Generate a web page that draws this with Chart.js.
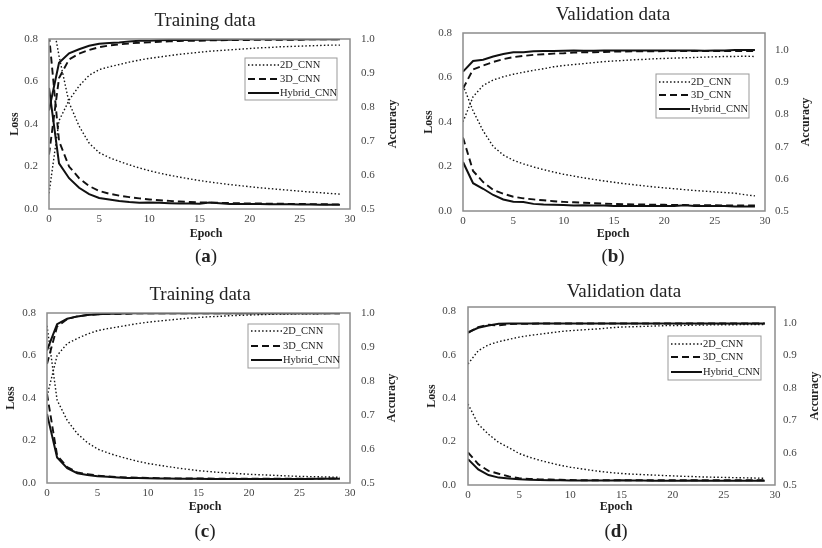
<!DOCTYPE html>
<html>
<head>
<meta charset="utf-8">
<script src="https://cdn.jsdelivr.net/npm/chart.js@4.4.1/dist/chart.umd.min.js"></script>
<style>
  body { margin: 0; background: #fff; }
  #wrap { position: relative; width: 822px; height: 548px; }
  .panel { position: absolute; width: 411px; height: 274px; }
</style>
</head>
<body>
<div id="wrap">
  <div class="panel" style="left:0;top:0"><canvas id="chartA"></canvas></div>
  <div class="panel" style="left:411px;top:0"><canvas id="chartB"></canvas></div>
  <div class="panel" style="left:0;top:274px"><canvas id="chartC"></canvas></div>
  <div class="panel" style="left:411px;top:274px"><canvas id="chartD"></canvas></div>
</div>
<script>
const epochs = [0, 1, 2, 3, 4, 5, 6, 7, 8, 9, 10, 11, 12, 13, 14, 15, 16, 17, 18, 19, 20, 21, 22, 23, 24, 25, 26, 27, 28, 29];
const epochTicks = [0, 5, 10, 15, 20, 25, 30];
const lossTicks = [0, 0.2, 0.4, 0.6, 0.8];
const accTicks = [0.5, 0.6, 0.7, 0.8, 0.9, 1.0];
const modelNames = ['2D_CNN', '3D_CNN', 'Hybrid_CNN'];

// (a) training
const a_loss2d = [0.98, 0.72, 0.50, 0.39, 0.31, 0.265, 0.242, 0.224, 0.208, 0.193, 0.18, 0.169, 0.159, 0.15, 0.142, 0.134, 0.127, 0.121, 0.115, 0.11, 0.105, 0.1, 0.096, 0.092, 0.088, 0.084, 0.08, 0.077, 0.073, 0.07];
const a_loss3d = [0.82, 0.32, 0.2, 0.145, 0.108, 0.085, 0.072, 0.063, 0.056, 0.05, 0.045, 0.041, 0.038, 0.035, 0.033, 0.031, 0.03, 0.029, 0.028, 0.027, 0.026, 0.026, 0.025, 0.025, 0.024, 0.024, 0.023, 0.023, 0.022, 0.022];
const a_lossHy = [0.57, 0.215, 0.145, 0.1, 0.07, 0.052, 0.045, 0.038, 0.033, 0.03, 0.031, 0.029, 0.027, 0.026, 0.026, 0.025, 0.03, 0.027, 0.024, 0.024, 0.023, 0.023, 0.022, 0.022, 0.022, 0.021, 0.021, 0.02, 0.02, 0.02];
const a_acc2d = [0.546, 0.76, 0.82, 0.862, 0.893, 0.91, 0.918, 0.925, 0.932, 0.938, 0.943, 0.947, 0.951, 0.955, 0.958, 0.961, 0.964, 0.966, 0.968, 0.97, 0.972, 0.974, 0.975, 0.977, 0.978, 0.979, 0.98, 0.981, 0.982, 0.982];
const a_acc3d = [0.66, 0.885, 0.94, 0.957, 0.968, 0.976, 0.981, 0.984, 0.987, 0.989, 0.99, 0.992, 0.993, 0.994, 0.995, 0.995, 0.996, 0.996, 0.997, 0.997, 0.997, 0.998, 0.998, 0.998, 0.998, 0.998, 0.999, 0.999, 0.999, 0.999];
const a_accHy = [0.79, 0.93, 0.958, 0.97, 0.98, 0.986, 0.988, 0.99, 0.993, 0.995, 0.995, 0.996, 0.997, 0.997, 0.997, 0.998, 0.998, 0.998, 0.998, 0.999, 0.999, 0.999, 0.999, 0.999, 0.999, 0.999, 0.999, 0.999, 0.999, 0.999];

// (b) validation
const b_loss2d = [0.565, 0.45, 0.36, 0.29, 0.252, 0.228, 0.212, 0.198, 0.186, 0.175, 0.165, 0.157, 0.149, 0.142, 0.135, 0.129, 0.123, 0.118, 0.113, 0.108, 0.104, 0.1, 0.096, 0.092, 0.089, 0.086, 0.083, 0.08, 0.073, 0.068];
const b_loss3d = [0.33, 0.18, 0.13, 0.095, 0.078, 0.064, 0.057, 0.052, 0.048, 0.044, 0.041, 0.039, 0.037, 0.035, 0.033, 0.032, 0.031, 0.03, 0.029, 0.028, 0.028, 0.027, 0.027, 0.026, 0.026, 0.026, 0.025, 0.025, 0.025, 0.025];
const b_lossHy = [0.22, 0.125, 0.1, 0.072, 0.052, 0.042, 0.04, 0.032, 0.029, 0.028, 0.027, 0.025, 0.026, 0.025, 0.025, 0.023, 0.023, 0.022, 0.022, 0.023, 0.022, 0.023, 0.026, 0.023, 0.023, 0.022, 0.022, 0.02, 0.02, 0.02];
const b_acc2d = [0.777, 0.855, 0.89, 0.907, 0.917, 0.925, 0.931, 0.937, 0.942, 0.948, 0.952, 0.955, 0.958, 0.961, 0.964, 0.966, 0.968, 0.97, 0.971, 0.973, 0.974, 0.975, 0.976, 0.977, 0.978, 0.979, 0.98, 0.98, 0.981, 0.98];
const b_acc3d = [0.88, 0.94, 0.952, 0.963, 0.972, 0.978, 0.982, 0.985, 0.987, 0.989, 0.99, 0.992, 0.993, 0.993, 0.994, 0.995, 0.995, 0.996, 0.996, 0.996, 0.997, 0.997, 0.997, 0.997, 0.997, 0.997, 0.997, 0.997, 0.997, 0.997];
const b_accHy = [0.933, 0.966, 0.97, 0.98, 0.988, 0.993, 0.993, 0.996, 0.997, 0.997, 0.998, 0.999, 0.998, 0.998, 0.999, 0.999, 0.999, 0.999, 0.999, 0.999, 0.999, 0.999, 0.999, 0.999, 0.998, 0.999, 0.999, 1.0, 1.0, 1.0];

// (c) training
const c_loss2d = [0.74, 0.39, 0.295, 0.232, 0.19, 0.16, 0.142, 0.127, 0.114, 0.102, 0.092, 0.084, 0.077, 0.07, 0.064, 0.058, 0.054, 0.05, 0.047, 0.044, 0.041, 0.039, 0.037, 0.035, 0.033, 0.031, 0.03, 0.029, 0.028, 0.027];
const c_loss3d = [0.42, 0.13, 0.075, 0.05, 0.042, 0.035, 0.031, 0.028, 0.026, 0.025, 0.024, 0.023, 0.022, 0.022, 0.021, 0.021, 0.021, 0.02, 0.02, 0.02, 0.02, 0.02, 0.02, 0.02, 0.02, 0.02, 0.02, 0.02, 0.021, 0.021];
const c_lossHy = [0.325, 0.12, 0.07, 0.046, 0.038, 0.032, 0.029, 0.026, 0.024, 0.023, 0.022, 0.021, 0.021, 0.02, 0.02, 0.02, 0.019, 0.019, 0.019, 0.019, 0.019, 0.019, 0.019, 0.019, 0.019, 0.019, 0.019, 0.02, 0.02, 0.02];
const c_acc2d = [0.755, 0.875, 0.91, 0.925, 0.938, 0.948, 0.954, 0.959, 0.964, 0.969, 0.973, 0.976, 0.979, 0.982, 0.985, 0.987, 0.989, 0.99, 0.992, 0.993, 0.994, 0.995, 0.996, 0.997, 0.997, 0.998, 0.998, 0.998, 0.999, 0.999];
const c_acc3d = [0.85, 0.96, 0.982, 0.99, 0.994, 0.996, 0.997, 0.998, 0.998, 0.999, 0.999, 0.999, 0.999, 0.999, 0.999, 0.999, 0.999, 0.999, 0.999, 0.999, 0.999, 0.999, 0.999, 0.999, 0.999, 0.999, 0.999, 0.999, 0.999, 0.999];
const c_accHy = [0.89, 0.967, 0.983, 0.99, 0.994, 0.996, 0.998, 0.998, 0.999, 0.999, 0.999, 0.999, 0.999, 0.999, 0.999, 0.999, 0.999, 0.999, 0.999, 0.999, 0.999, 0.999, 0.999, 0.999, 0.999, 0.999, 0.999, 0.999, 0.999, 0.999];

// (d) validation
const d_loss2d = [0.373, 0.28, 0.234, 0.196, 0.172, 0.145, 0.128, 0.114, 0.102, 0.091, 0.082, 0.075, 0.068, 0.062, 0.057, 0.053, 0.05, 0.048, 0.046, 0.044, 0.042, 0.04, 0.039, 0.037, 0.036, 0.035, 0.034, 0.033, 0.032, 0.031];
const d_loss3d = [0.15, 0.096, 0.065, 0.052, 0.039, 0.031, 0.028, 0.026, 0.025, 0.024, 0.023, 0.022, 0.022, 0.022, 0.022, 0.022, 0.022, 0.022, 0.022, 0.022, 0.022, 0.022, 0.022, 0.022, 0.022, 0.022, 0.022, 0.022, 0.022, 0.022];
const d_lossHy = [0.119, 0.072, 0.046, 0.034, 0.03, 0.026, 0.024, 0.023, 0.022, 0.022, 0.021, 0.021, 0.021, 0.021, 0.021, 0.022, 0.021, 0.021, 0.02, 0.02, 0.02, 0.02, 0.021, 0.02, 0.02, 0.02, 0.02, 0.02, 0.02, 0.02];
const d_acc2d = [0.874, 0.915, 0.933, 0.943, 0.95, 0.957, 0.962, 0.966, 0.97, 0.974, 0.977, 0.979, 0.981, 0.983, 0.986, 0.988, 0.989, 0.99, 0.991, 0.992, 0.993, 0.993, 0.994, 0.994, 0.995, 0.995, 0.995, 0.996, 0.996, 0.996];
const d_acc3d = [0.97, 0.988, 0.995, 0.993, 0.997, 0.998, 0.998, 0.999, 0.999, 0.999, 0.999, 0.999, 0.999, 0.999, 0.999, 0.999, 0.999, 0.999, 0.999, 0.999, 0.999, 0.999, 0.999, 0.999, 0.999, 0.999, 0.999, 0.999, 0.999, 0.999];
const d_accHy = [0.972, 0.986, 0.993, 0.998, 0.999, 0.999, 0.999, 0.999, 0.999, 0.999, 0.999, 0.999, 0.999, 0.999, 0.999, 0.999, 0.999, 0.999, 0.999, 0.999, 0.999, 0.999, 0.999, 0.999, 0.999, 0.999, 0.999, 0.999, 0.999, 0.999];

const SERIF = '"Liberation Serif", "Times New Roman", serif';
const lineStyles = [
  { borderDash: [1.5, 2.2], borderWidth: 1.4 },
  { borderDash: [7, 4], borderWidth: 1.9 },
  { borderDash: [], borderWidth: 2 }
];

// draws frame, titles, panel letter and legend
const panelText = {
  id: 'panelText',
  afterDraw(chart, args, o) {
    const ctx = chart.ctx, a = chart.chartArea;
    ctx.save();
    ctx.strokeStyle = '#8c8c8c';
    ctx.lineWidth = 1.5;
    ctx.strokeRect(a.left, a.top, a.right - a.left, a.bottom - a.top);

    ctx.fillStyle = '#222';
    ctx.textAlign = 'center';
    ctx.textBaseline = 'middle';
    ctx.font = '19px ' + SERIF;
    ctx.fillText(o.title, o.titleX, o.titleY);
    ctx.font = 'bold 12px ' + SERIF;
    ctx.fillText('Epoch', o.epochX, o.epochY);
    const midY = (a.top + a.bottom) / 2;
    [['Loss', o.lossX], ['Accuracy', o.accX]].forEach(([t, x]) => {
      ctx.save();
      ctx.translate(x, midY);
      ctx.rotate(-Math.PI / 2);
      ctx.fillText(t, 0, 0);
      ctx.restore();
    });

    // (a) with bold letter
    ctx.font = '19px ' + SERIF;
    const pw = ctx.measureText('(').width;
    ctx.font = 'bold 19px ' + SERIF;
    const lw = ctx.measureText(o.letter).width;
    let x = o.epochX - (pw * 2 + lw) / 2;
    ctx.textAlign = 'left';
    ctx.font = '19px ' + SERIF;
    ctx.fillText('(', x, o.letterY);
    ctx.font = 'bold 19px ' + SERIF;
    ctx.fillText(o.letter, x + pw, o.letterY);
    ctx.font = '19px ' + SERIF;
    ctx.fillText(')', x + pw + lw, o.letterY);

    // legend
    const lg = o.legend;
    ctx.fillStyle = '#fff';
    ctx.fillRect(lg.x, lg.y, lg.w, lg.h);
    ctx.strokeStyle = '#999';
    ctx.lineWidth = 1;
    ctx.strokeRect(lg.x, lg.y, lg.w, lg.h);
    ctx.font = '10.5px ' + SERIF;
    modelNames.forEach((name, i) => {
      const ry = lg.y + lg.rows[i];
      ctx.strokeStyle = '#111';
      ctx.lineWidth = lineStyles[i].borderWidth;
      ctx.setLineDash(lineStyles[i].borderDash);
      ctx.beginPath();
      ctx.moveTo(lg.x + 3, ry);
      ctx.lineTo(lg.x + 34, ry);
      ctx.stroke();
      ctx.setLineDash([]);
      ctx.fillStyle = '#222';
      ctx.fillText(name, lg.x + 35, ry);
    });
    ctx.restore();
  }
};

function makePanel(id, losses, accs, g) {
  const datasets = [];
  losses.forEach((arr, i) => datasets.push(Object.assign({
    label: modelNames[i] + ' loss', yAxisID: 'y',
    data: arr.map((v, k) => ({ x: epochs[k], y: v }))
  }, lineStyles[i])));
  accs.forEach((arr, i) => datasets.push(Object.assign({
    label: modelNames[i] + ' accuracy', yAxisID: 'y1',
    data: arr.map((v, k) => ({ x: epochs[k], y: v }))
  }, lineStyles[i])));
  datasets.forEach(d => { d.borderColor = '#111'; d.pointRadius = 0; d.tension = 0; d.fill = false; });

  const tickFont = { family: SERIF, size: 11 };
  new Chart(document.getElementById(id), {
    type: 'line',
    data: { datasets },
    options: {
      responsive: true,
      maintainAspectRatio: false,
      animation: false,
      layout: { padding: { top: g.T, left: 0, right: 0, bottom: 0 } },
      plugins: {
        legend: { display: false },
        tooltip: { enabled: false },
        panelText: g.text
      },
      scales: {
        x: {
          type: 'linear', min: 0, max: 30,
          grid: { display: false, drawTicks: false },
          border: { display: false },
          ticks: { font: tickFont, color: '#444', padding: 4, maxRotation: 0 },
          afterBuildTicks: s => { s.ticks = epochTicks.map(v => ({ value: v })); },
          afterFit: s => { s.height = 274 - g.B; }
        },
        y: {
          position: 'left', min: 0, max: g.lossMax,
          grid: { display: false, drawTicks: false },
          border: { display: false },
          ticks: { font: tickFont, color: '#444', padding: g.lp, callback: v => v.toFixed(1) },
          afterBuildTicks: s => { s.ticks = lossTicks.map(v => ({ value: v })); },
          afterFit: s => { s.width = g.L; }
        },
        y1: {
          position: 'right', min: 0.5, max: g.accMax,
          grid: { display: false, drawTicks: false },
          border: { display: false },
          ticks: { font: tickFont, color: '#444', padding: g.rp, callback: v => v.toFixed(1) },
          afterBuildTicks: s => { s.ticks = accTicks.map(v => ({ value: v })); },
          afterFit: s => { s.width = 411 - g.R; }
        }
      }
    },
    plugins: [panelText]
  });
}

makePanel('chartA', [a_loss2d, a_loss3d, a_lossHy], [a_acc2d, a_acc3d, a_accHy], {
  L: 49, R: 350, T: 39, B: 209, lossMax: 0.8, accMax: 1.0, lp: 11, rp: 11,
  text: { title: 'Training data', titleX: 205, titleY: 21, epochX: 206, epochY: 234, letter: 'a', letterY: 257,
    lossX: 15, accX: 393, legend: { x: 245, y: 58, w: 92, h: 42, rows: [7, 21, 35] } }
});
makePanel('chartB', [b_loss2d, b_loss3d, b_lossHy], [b_acc2d, b_acc3d, b_accHy], {
  L: 52, R: 354, T: 33, B: 211, lossMax: 0.8, accMax: 1.053, lp: 11, rp: 10,
  text: { title: 'Validation data', titleX: 202, titleY: 15, epochX: 202, epochY: 234, letter: 'b', letterY: 257,
    lossX: 18, accX: 395, legend: { x: 245, y: 74, w: 93, h: 44, rows: [8, 21, 35] } }
});
makePanel('chartC', [c_loss2d, c_loss3d, c_lossHy], [c_acc2d, c_acc3d, c_accHy], {
  L: 47, R: 350, T: 39, B: 209, lossMax: 0.8, accMax: 1.0, lp: 11, rp: 11,
  text: { title: 'Training data', titleX: 200, titleY: 21, epochX: 205, epochY: 233, letter: 'c', letterY: 258,
    lossX: 11, accX: 392, legend: { x: 248, y: 50, w: 91, h: 44, rows: [7, 22, 36] } }
});
makePanel('chartD', [d_loss2d, d_loss3d, d_lossHy], [d_acc2d, d_acc3d, d_accHy], {
  L: 57, R: 364, T: 33, B: 211, lossMax: 0.82, accMax: 1.05, lp: 12, rp: 8,
  text: { title: 'Validation data', titleX: 213, titleY: 18, epochX: 205, epochY: 233, letter: 'd', letterY: 258,
    lossX: 21, accX: 404, legend: { x: 257, y: 62, w: 93, h: 44, rows: [8, 21, 36] } }
});
</script>
</body>
</html>
